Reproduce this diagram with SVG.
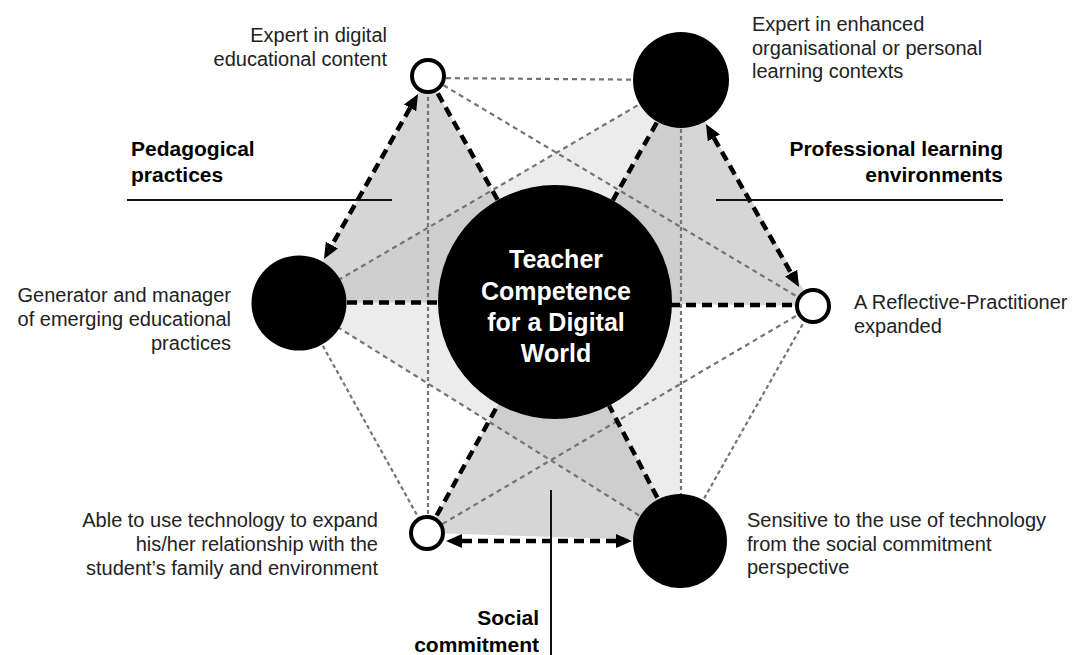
<svg xmlns="http://www.w3.org/2000/svg" width="1079" height="655" viewBox="0 0 1079 655">
<style>
.lbl{font-family:"Liberation Sans",Arial,sans-serif;font-size:20px;fill:#222}
.bold{font-family:"Liberation Sans",Arial,sans-serif;font-size:21px;font-weight:bold;fill:#000}
.ctr{font-family:"Liberation Sans",Arial,sans-serif;font-size:25px;font-weight:bold;fill:#fff}
.thin{stroke:#747474;stroke-width:2.2;stroke-dasharray:5 4;fill:none}
.dot{stroke:#747474;stroke-width:2.2;stroke-dasharray:4 3;fill:none}
.thick{stroke:#000;stroke-width:4.5;stroke-dasharray:10 6;fill:none}
.rule{stroke:#111;stroke-width:2;fill:none}
.open{fill:#fff;stroke:#000;stroke-width:4}
.solid{fill:#000}
.tri{fill:#d6d6d6}
</style>
<defs>
<marker id="ah" viewBox="0 0 16 14" markerWidth="16" markerHeight="14" refX="0" refY="7" markerUnits="userSpaceOnUse" orient="auto-start-reverse">
<path d="M0,0 L16,7 L0,14 z" fill="#000"/>
</marker>
</defs>
<rect width="1079" height="655" fill="#fff"/>
<g id="shading">
<polygon points="299,303 681,80 680,541" fill="#f5f5f5"/>
<polygon class="tri" points="428,76 299,303 555,302"/>
<polygon class="tri" points="681,80 813,306 555,302"/>
<polygon class="tri" points="427,533 680,541 555,302"/>
<polygon points="299,303 681,80 680,541" fill="#000" fill-opacity="0.035"/>
</g>
<g id="connectors">
<line class="thin" x1="428" y1="78" x2="681" y2="80"/>
<line class="thin" x1="428" y1="76" x2="813" y2="306"/>
<line class="thin" x1="427" y1="533" x2="813" y2="306"/>
<line class="dot" x1="428" y1="76" x2="428" y2="533"/>
<line class="thin" x1="299" y1="303" x2="681" y2="80"/>
<line class="thin" x1="299" y1="303" x2="680" y2="541"/>
<line class="dot" x1="681" y1="80" x2="681" y2="541"/>
<line class="dot" x1="299" y1="303" x2="427" y2="533"/>
<line class="dot" x1="813" y1="306" x2="680" y2="541"/>
<line class="thick" x1="437.8" y1="93.4" x2="497.7" y2="200"/>
<line class="thick" x1="656.8" y1="122.6" x2="612.8" y2="200.3"/>
<line class="thick" x1="347" y1="302.5" x2="440" y2="302.5"/>
<line class="thick" x1="670" y1="305" x2="795" y2="305"/>
<line class="thick" x1="436.7" y1="515.5" x2="498.3" y2="404.3"/>
<line class="thick" x1="657.3" y1="497.6" x2="609.2" y2="405.7"/>
<line class="thick" x1="410.1" y1="107.9" x2="331.9" y2="245.1" marker-start="url(#ah)" marker-end="url(#ah)"/>
<line class="thick" x1="713.9" y1="137.9" x2="791.1" y2="273.1" marker-start="url(#ah)" marker-end="url(#ah)"/>
<line class="thick" x1="462" y1="541" x2="616" y2="541" marker-start="url(#ah)" marker-end="url(#ah)"/>
</g>
<g id="center">
<circle class="solid" cx="555" cy="302" r="117"/>
<text class="ctr" text-anchor="middle"><tspan x="556" y="268">Teacher</tspan><tspan x="556" y="300">Competence</tspan><tspan x="556" y="331">for a Digital</tspan><tspan x="556" y="362">World</tspan></text>
</g>
<g id="node-digital-content">
<circle class="open" cx="428" cy="76" r="16"/>
<text class="lbl" text-anchor="end"><tspan x="387" y="42">Expert in digital</tspan><tspan x="387" y="66">educational content</tspan></text>
</g>
<g id="node-learning-contexts">
<circle class="solid" cx="681" cy="80" r="48"/>
<text class="lbl"><tspan x="752" y="31">Expert in enhanced</tspan><tspan x="752" y="54.5">organisational or personal</tspan><tspan x="752" y="78">learning contexts</tspan></text>
</g>
<g id="node-emerging-practices">
<circle class="solid" cx="299" cy="303" r="47.5"/>
<text class="lbl" text-anchor="end"><tspan x="231" y="302">Generator and manager</tspan><tspan x="231" y="326">of emerging educational</tspan><tspan x="231" y="350">practices</tspan></text>
</g>
<g id="node-reflective">
<circle class="open" cx="813" cy="306" r="16"/>
<text class="lbl"><tspan x="854" y="309">A Reflective-Practitioner</tspan><tspan x="854" y="333">expanded</tspan></text>
</g>
<g id="node-family">
<circle class="open" cx="427" cy="533" r="16"/>
<text class="lbl" text-anchor="end"><tspan x="378" y="527">Able to use technology to expand</tspan><tspan x="378" y="551">his/her relationship with the</tspan><tspan x="378" y="575">student’s family and environment</tspan></text>
</g>
<g id="node-social">
<circle class="solid" cx="680" cy="541" r="47"/>
<text class="lbl"><tspan x="747" y="527">Sensitive to the use of technology</tspan><tspan x="747" y="550.5">from the social commitment</tspan><tspan x="747" y="574">perspective</tspan></text>
</g>
<g id="area-pedagogical">
<text class="bold"><tspan x="131" y="156">Pedagogical</tspan><tspan x="131" y="182">practices</tspan></text>
<line class="rule" x1="127" y1="200" x2="392" y2="200"/>
</g>
<g id="area-professional">
<text class="bold" text-anchor="end"><tspan x="1003" y="156">Professional learning</tspan><tspan x="1003" y="182">environments</tspan></text>
<line class="rule" x1="716" y1="200" x2="1003" y2="200"/>
</g>
<g id="area-social">
<text class="bold" text-anchor="end"><tspan x="539" y="625">Social</tspan><tspan x="539" y="652">commitment</tspan></text>
<line class="rule" x1="551" y1="490" x2="551" y2="655"/>
</g>
</svg>
